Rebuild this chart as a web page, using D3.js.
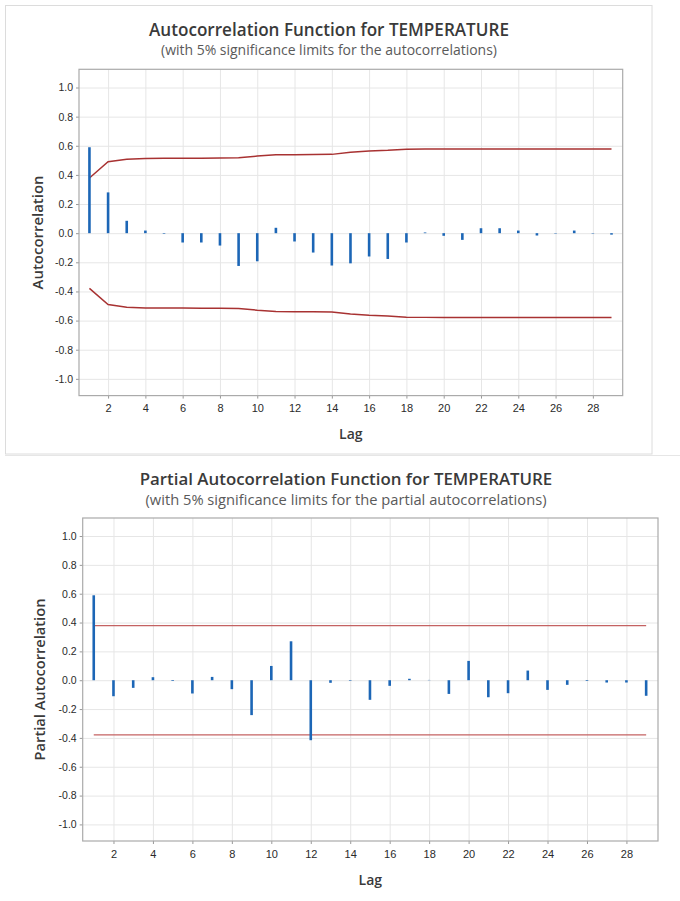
<!DOCTYPE html>
<html>
<head>
<meta charset="utf-8">
<script src="https://cdn.jsdelivr.net/npm/d3@7"></script>
<style>
  html, body { margin: 0; background: #fff; }
  svg { display: block; font-family: "Segoe UI", "Open Sans", "Noto Sans", sans-serif; }
</style>
</head>
<body>
<div id="chart"></div>
<script>
const lags = [1, 2, 3, 4, 5, 6, 7, 8, 9, 10, 11, 12, 13, 14, 15, 16, 17, 18, 19, 20, 21, 22, 23, 24, 25, 26, 27, 28, 29];

const acfValues = [0.59, 0.28, 0.085, 0.018, -0.004, -0.064, -0.064, -0.085, -0.225, -0.193,
  0.037, -0.057, -0.133, -0.222, -0.207, -0.16, -0.177, -0.064, 0.005, -0.018,
  -0.046, 0.034, 0.034, 0.018, -0.016, -0.003, 0.018, -0.003, -0.01];

const acfLimits = [0.379, 0.49, 0.508, 0.513, 0.514, 0.514, 0.515, 0.516, 0.517, 0.529,
  0.538, 0.539, 0.54, 0.541, 0.555, 0.564, 0.569, 0.577, 0.578, 0.578,
  0.578, 0.578, 0.578, 0.578, 0.578, 0.578, 0.578, 0.578, 0.578];

const pacfValues = [0.589, -0.111, -0.053, 0.021, -0.005, -0.092, 0.023, -0.062, -0.242, 0.099,
  0.27, -0.416, -0.018, -0.004, -0.136, -0.039, 0.01, 0.002, -0.095, 0.134,
  -0.118, -0.09, 0.067, -0.067, -0.032, -0.005, -0.016, -0.016, -0.108];

const pacfLimit = 0.379;

const yTicks = [1.0, 0.8, 0.6, 0.4, 0.2, 0.0, -0.2, -0.4, -0.6, -0.8, -1.0];
const yTickLabels = ["1.0", "0.8", "0.6", "0.4", "0.2", "0.0", "-0.2", "-0.4", "-0.6", "-0.8", "-1.0"];
const xTicks = [2, 4, 6, 8, 10, 12, 14, 16, 18, 20, 22, 24, 26, 28];

const width = 680, height = 901;
const svg = d3.select("#chart").append("svg")
  .attr("width", width)
  .attr("height", height);

// panel outlines from the screenshot
svg.append("rect")
  .attr("x", 5.5).attr("y", 5.5)
  .attr("width", 646.5).attr("height", 448.5)
  .attr("fill", "none").attr("stroke", "#dcdcdc");
svg.append("line")
  .attr("x1", 5).attr("x2", width)
  .attr("y1", 455.5).attr("y2", 455.5)
  .attr("stroke", "#e6e6e6");

// shrink/grow font so the text takes the width seen in the picture
function fitText(sel, target) {
  const size = parseFloat(sel.attr("font-size"));
  const w = sel.node().getComputedTextLength();
  if (w > 0) sel.attr("font-size", (size * target / w).toFixed(2));
  return sel;
}

function drawPanel(cfg) {
  const x = d3.scaleLinear().domain([0.44, 29.6]).range([cfg.left, cfg.right]);
  const y = d3.scaleLinear().domain([-1.115, 1.125]).range([cfg.bottom, cfg.top]);
  const g = svg.append("g");

  g.append("text")
    .attr("x", cfg.titleX).attr("y", cfg.titleY)
    .attr("text-anchor", "middle")
    .attr("font-size", 17).attr("font-weight", 600)
    .attr("fill", "#3a3a3a")
    .text(cfg.title)
    .call(fitText, cfg.titleWidth);

  g.append("text")
    .attr("x", cfg.titleX).attr("y", cfg.titleY + cfg.subGap)
    .attr("text-anchor", "middle")
    .attr("font-size", 13)
    .attr("fill", "#5a5a5a")
    .text(cfg.subtitle)
    .call(fitText, cfg.subWidth);

  // grid
  g.append("g")
    .attr("transform", `translate(0,${cfg.bottom})`)
    .call(d3.axisBottom(x).tickValues(xTicks).tickSize(-(cfg.bottom - cfg.top)).tickFormat(""))
    .call((s) => s.select(".domain").remove())
    .selectAll("line").attr("stroke", "#e6e6e6");

  g.append("g")
    .attr("transform", `translate(${cfg.left},0)`)
    .call(d3.axisLeft(y).tickValues(yTicks).tickSize(-(cfg.right - cfg.left)).tickFormat(""))
    .call((s) => s.select(".domain").remove())
    .selectAll("line").attr("stroke", "#e6e6e6");

  // axes
  const xAxis = g.append("g")
    .attr("transform", `translate(0,${cfg.bottom})`)
    .call(d3.axisBottom(x).tickValues(xTicks).tickSize(3).tickPadding(6));
  xAxis.select(".domain").remove();
  xAxis.selectAll("line").attr("stroke", "#999");
  xAxis.selectAll("text")
    .attr("font-family", null).attr("font-size", 11).attr("fill", "#2a2a2a");

  const yAxis = g.append("g")
    .attr("transform", `translate(${cfg.left},0)`)
    .call(d3.axisLeft(y).tickValues(yTicks).tickSize(3).tickPadding(3)
      .tickFormat((d, i) => yTickLabels[i]));
  yAxis.select(".domain").remove();
  yAxis.selectAll("line").attr("stroke", "#999");
  yAxis.selectAll("text")
    .attr("font-family", null).attr("font-size", 10.5).attr("fill", "#2a2a2a");

  g.append("rect")
    .attr("x", cfg.left).attr("y", cfg.top)
    .attr("width", cfg.right - cfg.left).attr("height", cfg.bottom - cfg.top)
    .attr("fill", "none").attr("stroke", "#aaa").attr("stroke-width", 1.2);

  // axis titles
  g.append("text")
    .attr("x", (cfg.left + cfg.right) / 2).attr("y", cfg.bottom + 43.5)
    .attr("text-anchor", "middle")
    .attr("font-size", 14).attr("font-weight", 600)
    .attr("fill", "#3a3a3a")
    .text("Lag");

  g.append("text")
    .attr("transform", `translate(${cfg.yLabelX},${(cfg.top + cfg.bottom) / 2}) rotate(-90)`)
    .attr("text-anchor", "middle")
    .attr("font-size", 14).attr("font-weight", 600)
    .attr("fill", "#3a3a3a")
    .text(cfg.yLabel)
    .call(fitText, cfg.yLabelWidth);

  // significance limits
  const limitLine = d3.line().x((d) => x(d[0])).y((d) => y(d[1]));
  const upper = lags.map((lag, i) => [lag, cfg.limits[i]]);
  const lower = lags.map((lag, i) => [lag, -cfg.limits[i]]);
  g.append("g")
    .selectAll("path")
    .data([upper, lower])
    .join("path")
    .attr("d", limitLine)
    .attr("fill", "none")
    .attr("stroke", cfg.limitColor)
    .attr("stroke-width", cfg.limitWidth);

  // spikes
  g.append("g")
    .selectAll("line")
    .data(lags)
    .join("line")
    .attr("x1", (d) => x(d))
    .attr("x2", (d) => x(d))
    .attr("y1", y(0))
    .attr("y2", (d, i) => y(cfg.values[i]))
    .attr("stroke", "#1c66b6")
    .attr("stroke-width", 2.6);
}

drawPanel({
  title: "Autocorrelation Function for TEMPERATURE",
  subtitle: "(with 5% significance limits for the autocorrelations)",
  yLabel: "Autocorrelation",
  values: acfValues,
  limits: acfLimits,
  limitColor: "#a83232",
  limitWidth: 1.5,
  left: 79, right: 622.7, top: 69.3, bottom: 395.6,
  titleX: 329, titleY: 35.5, subGap: 19, titleWidth: 360, subWidth: 336,
  yLabelX: 43, yLabelWidth: 114
});

drawPanel({
  title: "Partial Autocorrelation Function for TEMPERATURE",
  subtitle: "(with 5% significance limits for the partial autocorrelations)",
  yLabel: "Partial Autocorrelation",
  values: pacfValues,
  limits: lags.map(() => pacfLimit),
  limitColor: "#c46262",
  limitWidth: 1.3,
  left: 82.7, right: 658, top: 518, bottom: 841,
  titleX: 346, titleY: 484.5, subGap: 20.5, titleWidth: 413, subWidth: 401,
  yLabelX: 45, yLabelWidth: 162
});
</script>
</body>
</html>
